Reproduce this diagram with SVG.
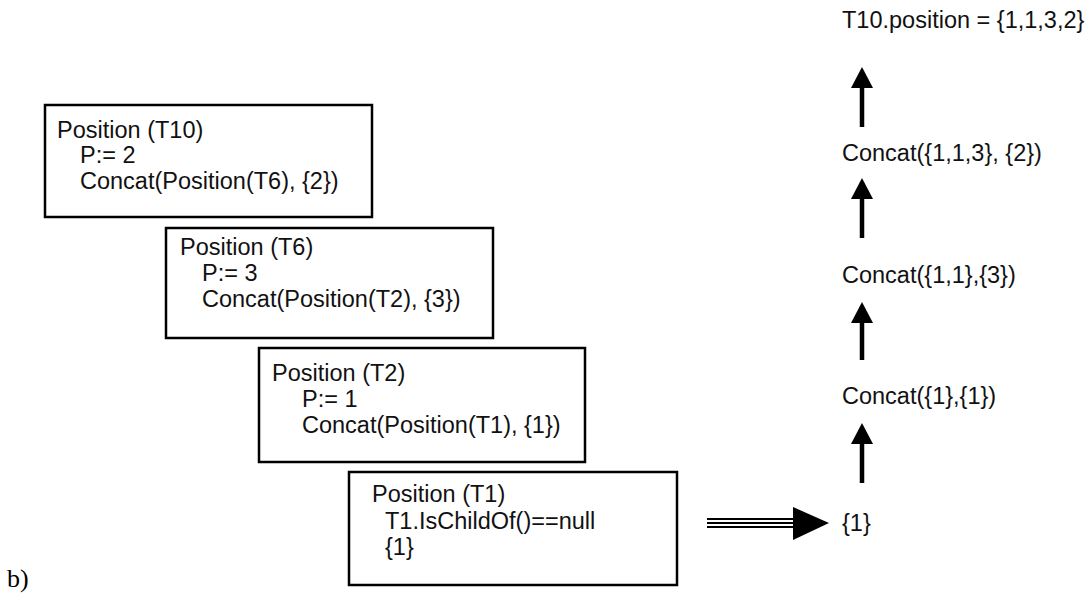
<svg xmlns="http://www.w3.org/2000/svg" width="1091" height="594" viewBox="0 0 1091 594">
<style>
.box{fill:#fff;stroke:#000;stroke-width:2.5}
.t{font-family:"Liberation Sans",Arial,sans-serif;font-size:23.5px;fill:#111}
.lbl{font-family:"Liberation Serif","Times New Roman",serif;font-size:26px;fill:#000}
.up{stroke:#000;stroke-width:4.5;fill:none}
.dl{stroke:#000;stroke-width:2;fill:none}
.head{fill:#000}
</style>
<rect width="1091" height="594" fill="#fff"/>
<g id="node-t10">
<rect class="box" x="45" y="105" width="327" height="112"/>
<text class="t" x="57" y="138">Position (T10)</text>
<text class="t" x="80" y="163">P:= 2</text>
<text class="t" x="80" y="189">Concat(Position(T6), {2})</text>
</g>
<g id="node-t6">
<rect class="box" x="166" y="228" width="327" height="110"/>
<text class="t" x="180" y="255">Position (T6)</text>
<text class="t" x="202" y="281">P:= 3</text>
<text class="t" x="202" y="307">Concat(Position(T2), {3})</text>
</g>
<g id="node-t2">
<rect class="box" x="259" y="348" width="326" height="114"/>
<text class="t" x="272" y="381">Position (T2)</text>
<text class="t" x="302" y="407">P:= 1</text>
<text class="t" x="302" y="433">Concat(Position(T1), {1})</text>
</g>
<g id="node-t1">
<rect class="box" x="349" y="472" width="328" height="113"/>
<text class="t" x="372" y="502">Position (T1)</text>
<text class="t" x="385" y="529">T1.IsChildOf()==null</text>
<text class="t" x="385" y="555">{1}</text>
</g>
<g id="node-r1"><text class="t" x="842" y="531">{1}</text></g>
<g id="node-r2"><text class="t" x="842" y="404">Concat({1},{1})</text></g>
<g id="node-r3"><text class="t" x="842" y="283">Concat({1,1},{3})</text></g>
<g id="node-r4"><text class="t" x="842" y="161">Concat({1,1,3}, {2})</text></g>
<g id="node-r5"><text class="t" x="842" y="28">T10.position = {1,1,3,2}</text></g>
<g id="connectors">
<line class="dl" x1="707" y1="519" x2="796" y2="519"/>
<line class="dl" x1="707" y1="523" x2="796" y2="523"/>
<line class="dl" x1="707" y1="527" x2="796" y2="527"/>
<polygon class="head" points="793,507 829,523 793,540"/>
<line class="up" x1="862" y1="483" x2="862" y2="440"/>
<polygon class="head" points="862,423 873,444 851,444"/>
<line class="up" x1="862" y1="360" x2="862" y2="318"/>
<polygon class="head" points="862,302 873,323 851,323"/>
<line class="up" x1="862" y1="238" x2="862" y2="195"/>
<polygon class="head" points="862,178 873,199 851,199"/>
<line class="up" x1="862" y1="127" x2="862" y2="84"/>
<polygon class="head" points="862,67 873,88 851,88"/>
</g>
<text class="lbl" x="7" y="587">b)</text>
</svg>
